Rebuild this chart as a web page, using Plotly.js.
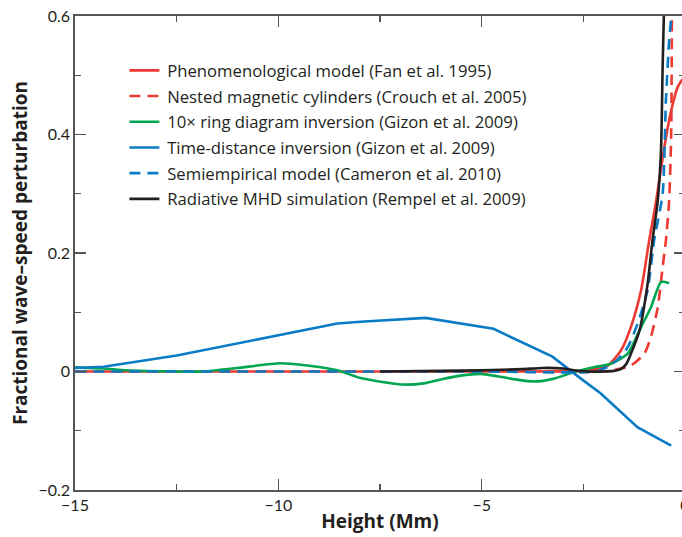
<!DOCTYPE html>
<html>
<head>
<meta charset="utf-8">
<script src="https://cdn.plot.ly/plotly-3.0.1.min.js"></script>
<style>
html, body { margin: 0; padding: 0; overflow: hidden; background: #fff; }
#chart { width: 690px; height: 537px; }
</style>
</head>
<body>
<div id="chart"></div>
<script>
// Phenomenological model (Fan et al. 1995)
const fanX = [-15, -10, -5, -2.5, -2.2, -1.9, -1.58, -1.33, -1.08, -0.88, -0.71, -0.51, -0.34, -0.18, -0.05, 0];
const fanY = [0, 0, 0, 0.001, 0.004, 0.010, 0.035, 0.075, 0.137, 0.221, 0.288, 0.378, 0.44, 0.48, 0.494, 0.497];

// Nested magnetic cylinders (Crouch et al. 2005)
const crouchX = [-15, -10, -5, -2, -1.58, -1.33, -1.0, -0.84, -0.67, -0.55, -0.47, -0.39, -0.34, -0.32];
const crouchY = [0, 0, 0, 0, 0.005, 0.010, 0.030, 0.058, 0.108, 0.176, 0.221, 0.288, 0.40, 0.65];

// 10x ring diagram inversion (Gizon et al. 2009)
const ringX = [-15, -14.3, -13.73, -12.5, -11.84, -11, -9.95, -9.29, -8.55, -7.98, -7.4, -6.91, -6.43, -5.98, -5.52, -5.02, -4.61, -4.2, -3.71, -3.22, -2.73, -2.24, -1.82, -1.41, -1.08, -0.84, -0.59, -0.39];
const ringY = [0.007, 0.005, 0.002, 0.0, 0.0, 0.006, 0.014, 0.010, 0.002, -0.011, -0.018, -0.022, -0.020, -0.013, -0.007, -0.004, -0.008, -0.013, -0.017, -0.012, -0.001, 0.007, 0.013, 0.030, 0.075, 0.108, 0.151, 0.149];

// Time-distance inversion (Gizon et al. 2009)
const tdX = [-15, -14.3, -12.5, -11.26, -10, -8.55, -7.98, -6.38, -4.71, -3.26, -2.56, -2.07, -1.17, -0.34];
const tdY = [0.006, 0.008, 0.027, 0.044, 0.062, 0.081, 0.084, 0.0905, 0.072, 0.025, -0.012, -0.037, -0.094, -0.125];

// Semiempirical model (Cameron et al. 2010)
const camX = [-15, -10, -5, -2.2, -1.9, -1.66, -1.41, -1.17, -0.92, -0.76, -0.55, -0.47, -0.39, -0.34, -0.32];
const camY = [0, 0, 0, 0, 0.008, 0.020, 0.041, 0.080, 0.137, 0.221, 0.30, 0.457, 0.558, 0.598, 0.65];

// Radiative MHD simulation (Rempel et al. 2009)
const mhdX = [-7.5, -6, -5, -4, -3.5, -3.0, -2.73, -2.4, -2.0, -1.75, -1.58, -1.45, -1.33, -1.12, -0.92, -0.80, -0.67, -0.59, -0.55, -0.52, -0.5];
const mhdY = [0, 0.001, 0.002, 0.004, 0.006, 0.005, 0.002, 0.0, 0.0, 0.001, 0.004, 0.012, 0.030, 0.069, 0.148, 0.221, 0.288, 0.373, 0.513, 0.6, 0.65];

const names = [
  'Phenomenological model (Fan et al. 1995)',
  'Nested magnetic cylinders (Crouch et al. 2005)',
  '10\u00d7 ring diagram inversion (Gizon et al. 2009)',
  'Time-distance inversion (Gizon et al. 2009)',
  'Semiempirical model (Cameron et al. 2010)',
  'Radiative MHD simulation (Rempel et al. 2009)'
];

const RED = '#ec3a33', GREEN = '#00a651', BLUE = '#0a7cc6', BLACK = '#231f20';
const LW = 2.6;
const DASH = '11px,7px';

function tr(x, y, name, color, dash, group) {
  return {
    x: x, y: y, name: '\u2009' + name, type: 'scatter', mode: 'lines',
    line: {color: color, width: LW, dash: dash, shape: 'spline', smoothing: 0.6},
    legendgroup: group
  };
}

const data = [
  tr(fanX, fanY, names[0], RED, 'solid', 'a'),
  tr(crouchX, crouchY, names[1], RED, DASH, 'b'),
  tr(ringX, ringY, names[2], GREEN, 'solid', 'c'),
  tr(tdX, tdY, names[3], BLUE, 'solid', 'd'),
  tr(camX, camY, names[4], BLUE, DASH, 'e'),
  tr(mhdX, mhdY, names[5], BLACK, 'solid', 'f')
];
data[3].line.shape = 'linear';

const FONT = 'Lato, "Open Sans", sans-serif';
const TFONT = '"Open Sans", Lato, sans-serif';
const AXC = '#555555';

const layout = {
  width: 690, height: 537,
  margin: {l: 75, r: 5, t: 16, b: 47},
  paper_bgcolor: '#ffffff', plot_bgcolor: '#ffffff',
  font: {family: FONT, size: 16, color: '#231f20'},
  showlegend: true,
  legend: {
    x: 0.081, y: 0.922, xanchor: 'left', yanchor: 'top',
    bgcolor: 'rgba(0,0,0,0)', borderwidth: 0,
    font: {family: TFONT, size: 16.7, color: '#231f20'},
    tracegroupgap: 1
  },
  xaxis: {
    range: [-15, 0], tickvals: [-15, -10, -5, 0], ticktext: ['\u221215', '\u221210', '\u22125', '0'],
    ticks: 'inside', ticklen: 11, tickwidth: 1.3, tickcolor: AXC,
    minor: {ticks: 'inside', ticklen: 6, tickwidth: 1.3, tickcolor: AXC, dtick: 2.5, tick0: 0},
    showline: true, linecolor: AXC, linewidth: 1.8, mirror: 'ticks',
    showgrid: false, zeroline: false,
    tickfont: {family: FONT, size: 16},
    title: {text: '<b>Height (Mm)</b>', font: {family: TFONT, size: 19}, standoff: 2}
  },
  yaxis: {
    range: [-0.2, 0.6], tickvals: [-0.2, 0, 0.2, 0.4, 0.6], ticktext: ['\u22120.2', '0', '0.2', '0.4', '0.6'],
    ticks: 'inside', ticklen: 11, tickwidth: 1.3, tickcolor: AXC,
    minor: {ticks: 'inside', ticklen: 6, tickwidth: 1.3, tickcolor: AXC, dtick: 0.1, tick0: 0},
    showline: true, linecolor: AXC, linewidth: 1.8, mirror: 'ticks',
    showgrid: false, zeroline: false,
    tickfont: {family: FONT, size: 16},
    title: {text: '<b>Fractional wave\u2013speed perturbation</b>', font: {family: TFONT, size: 19}, standoff: 6}
  }
};

Plotly.newPlot('chart', data, layout, {staticPlot: true, displayModeBar: false});
</script>
</body>
</html>
